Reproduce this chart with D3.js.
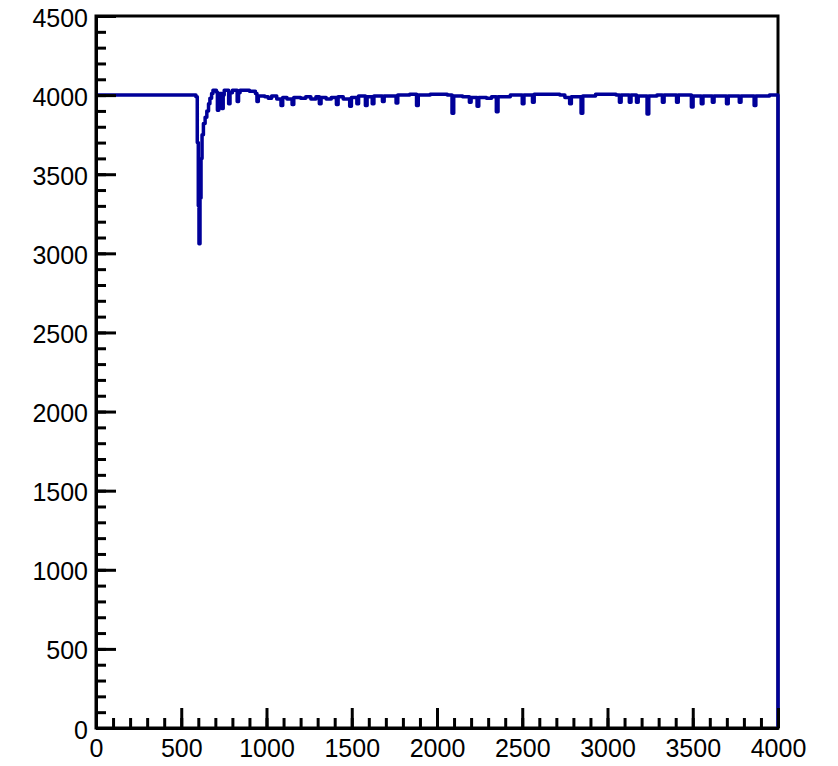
<!DOCTYPE html>
<html>
<head>
<meta charset="utf-8">
<script src="https://cdn.jsdelivr.net/npm/d3@7"></script>
<style>
  html, body { margin: 0; padding: 0; background: #fff; }
  svg { display: block; }
  text { font-family: "Liberation Sans", Arial, Helvetica, sans-serif; }
</style>
</head>
<body>
<svg id="chart" width="838" height="766"></svg>
<script>
// ---- data (each value holds until the next x) ----
const xValues = [
  0, 586, 594, 600, 604, 610, 616, 622, 630, 640, 650, 660, 668, 678, 686, 706, 712, 720, 738, 746,
  752, 778, 786, 800, 828, 836, 845, 900, 935, 944, 952, 990, 1010, 1030, 1060, 1085, 1095, 1120, 1150, 1160,
  1200, 1230, 1260, 1290, 1310, 1320, 1350, 1380, 1410, 1420, 1450, 1488, 1498, 1530, 1540, 1580, 1590, 1620, 1630, 1680,
  1690, 1760, 1770, 1840, 1880, 1890, 1960, 2060, 2088, 2098, 2150, 2190, 2200, 2235, 2245, 2290, 2320, 2348, 2358, 2430,
  2500, 2510, 2560, 2570, 2660, 2720, 2750, 2778, 2788, 2845, 2855, 2930, 3000, 3050, 3070, 3080, 3128, 3138, 3170, 3180,
  3232, 3242, 3290, 3322, 3332, 3405, 3415, 3492, 3502, 3550, 3560, 3615, 3625, 3698, 3708, 3773, 3783, 3860, 3870, 3950,
  4000
];
const yValues = [
  4000, 3990, 3700, 3300, 3060, 3350, 3600, 3750, 3820, 3860, 3900, 3945, 3980, 4010, 4030, 4020, 3905, 4010, 3915, 4000,
  4030, 3945, 4015, 4030, 3960, 4015, 4030, 4025, 4010, 3960, 3995, 3990, 3980, 3995, 3975, 3935, 3985, 3975, 3940, 3985,
  3980, 3990, 3975, 3990, 3945, 3985, 3975, 3985, 3940, 3990, 3975, 3930, 3985, 3945, 3995, 3935, 3990, 3945, 3995, 3960,
  3995, 3950, 4000, 4005, 3935, 4000, 4005, 4000, 3885, 3995, 3990, 3955, 3985, 3930, 3985, 3980, 3990, 3895, 3990, 4000,
  3945, 4000, 3955, 4005, 4005, 4000, 3985, 3945, 3990, 3885, 3995, 4005, 4005, 4000, 3955, 4000, 3955, 4000, 3955, 3995,
  3880, 3995, 4000, 3955, 4000, 3955, 4000, 3925, 3995, 3945, 3995, 3955, 3995, 3945, 3995, 3955, 3995, 3935, 3995, 4000,
  0
];
const xMajorTicks = [0, 500, 1000, 1500, 2000, 2500, 3000, 3500, 4000];
const yMajorTicks = [0, 500, 1000, 1500, 2000, 2500, 3000, 3500, 4000, 4500];
const xMinorTicks = d3.range(0, 4001, 100);
const yMinorTicks = d3.range(0, 4501, 100);

// ---- layout ----
const svg = d3.select("#chart");
const plotLeft = 96, plotRight = 778, plotTop = 16, plotBottom = 728;

const x = d3.scaleLinear().domain([0, 4000]).range([plotLeft, plotRight]);
const y = d3.scaleLinear().domain([0, 4500]).range([plotBottom, plotTop]);

// frame (drawn first, data goes over it)
svg.append("rect")
  .attr("x", plotLeft).attr("y", plotTop)
  .attr("width", plotRight - plotLeft).attr("height", plotBottom - plotTop)
  .attr("fill", "none").attr("stroke", "#000").attr("stroke-width", 3);

// data line (histogram-style steps)
const pts = xValues.map((d, i) => [d, yValues[i]]);
svg.append("path")
  .datum(pts)
  .attr("fill", "none")
  .attr("stroke", "#000099")
  .attr("stroke-width", 3.5)
  .attr("stroke-linejoin", "round")
  .attr("d", d3.line().curve(d3.curveStepAfter).x(d => x(d[0])).y(d => y(d[1])));

// axes drawn on top
function styleAxis(g) {
  g.selectAll("line").attr("stroke", "#000").attr("stroke-width", 3);
  g.selectAll("path.domain").attr("stroke", "#000").attr("stroke-width", 3);
  g.selectAll("text").attr("fill", "#000").style("font-size", "25px");
}

svg.append("g")
  .attr("transform", `translate(0,${plotBottom})`)
  .call(d3.axisBottom(x).tickValues(xMinorTicks).tickSize(-10).tickSizeOuter(0).tickFormat(""))
  .call(styleAxis);
svg.append("g")
  .attr("transform", `translate(0,${plotBottom})`)
  .call(d3.axisBottom(x).tickValues(xMajorTicks).tickSize(-20).tickSizeOuter(0).tickPadding(11).tickFormat(d3.format("d")))
  .call(styleAxis);

svg.append("g")
  .attr("transform", `translate(${plotLeft},0)`)
  .call(d3.axisLeft(y).tickValues(yMinorTicks).tickSize(-10).tickSizeOuter(0).tickFormat(""))
  .call(styleAxis);
const yAx = svg.append("g")
  .attr("transform", `translate(${plotLeft},0)`)
  .call(d3.axisLeft(y).tickValues(yMajorTicks).tickSize(-20).tickSizeOuter(0).tickPadding(8).tickFormat(d3.format("d")))
  .call(styleAxis);
yAx.selectAll("text").attr("dy", "0.4em");
</script>
</body>
</html>
